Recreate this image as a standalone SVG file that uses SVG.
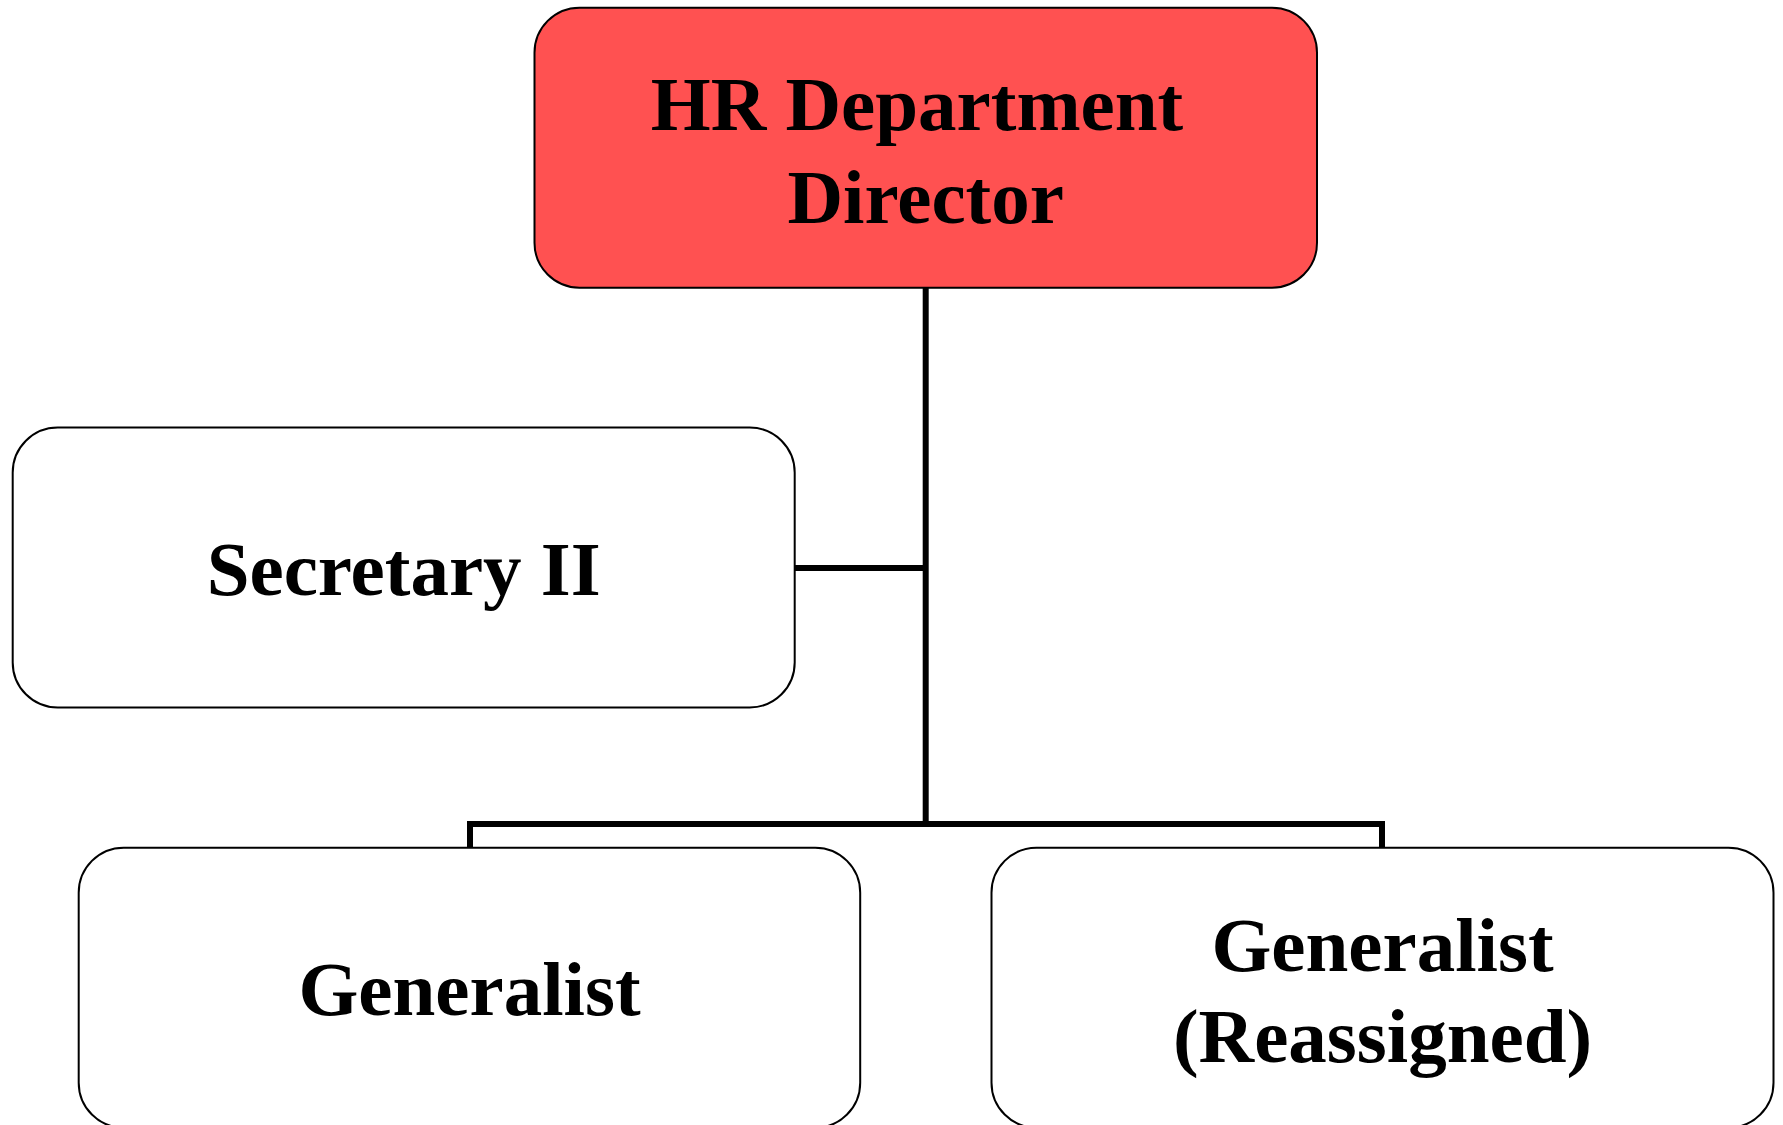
<svg xmlns="http://www.w3.org/2000/svg" width="1783" height="1125" viewBox="0 0 1783 1125">
<style>
.box{fill:#FFFFFF;stroke:#000000;stroke-width:2}
.red{fill:#FF5151}
.lbl{font-family:"Liberation Serif","Times New Roman",serif;font-weight:bold;font-size:77px;fill:#000000;text-anchor:middle}
.conn{fill:none;stroke:#000000;stroke-width:6;stroke-linejoin:miter}
</style>
<rect width="1783" height="1125" fill="#FFFFFF"/>
<g id="connectors">
<line class="conn" x1="925.7" y1="288" x2="925.7" y2="824"/>
<line class="conn" x1="795" y1="568" x2="925.7" y2="568"/>
<polyline class="conn" points="470,848 470,824 1382,824 1382,848"/>
</g>
<g id="node-director">
<rect class="box red" x="534.5" y="7.7" width="782.5" height="280" rx="45" ry="45"/>
<text class="lbl" x="917" y="130">HR Department</text>
<text class="lbl" x="925.7" y="223">Director</text>
</g>
<g id="node-secretary">
<rect class="box" x="12.7" y="427.5" width="782" height="280" rx="45" ry="45"/>
<text class="lbl" x="403.7" y="595">Secretary II</text>
</g>
<g id="node-generalist">
<rect class="box" x="78.7" y="847.7" width="781.5" height="280" rx="45" ry="45"/>
<text class="lbl" x="469.5" y="1015">Generalist</text>
</g>
<g id="node-generalist-reassigned">
<rect class="box" x="991.5" y="847.7" width="782" height="280" rx="45" ry="45"/>
<text class="lbl" x="1382.5" y="971">Generalist</text>
<text class="lbl" x="1382.5" y="1062">(Reassigned)</text>
</g>
</svg>
